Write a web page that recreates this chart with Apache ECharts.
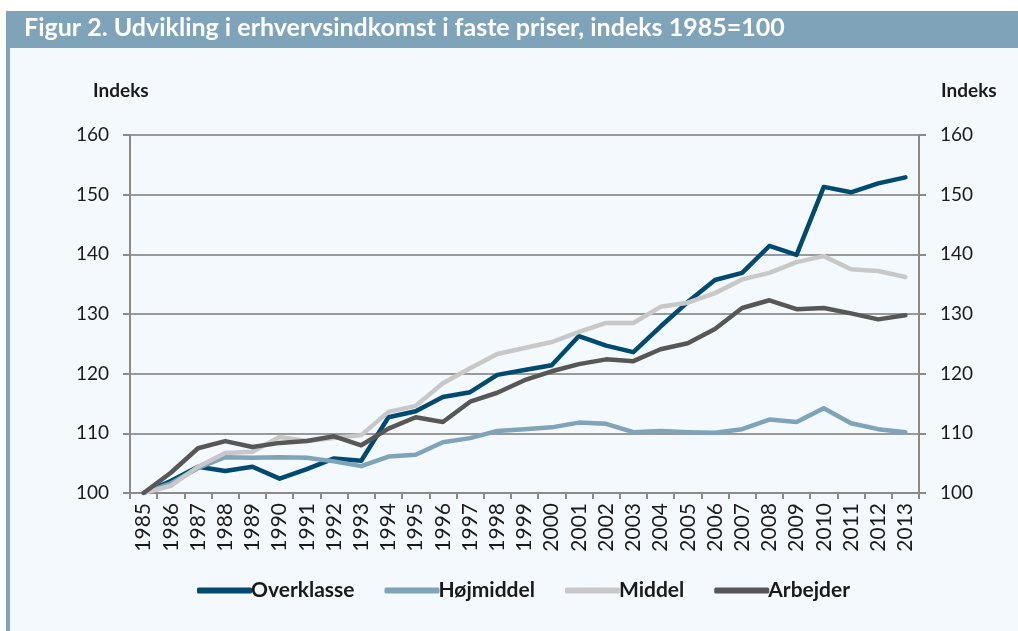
<!DOCTYPE html>
<html>
<head>
<meta charset="utf-8">
<script src="https://cdn.jsdelivr.net/npm/echarts@6/dist/echarts.min.js"></script>
<style>
  html, body { margin: 0; padding: 0; background: #ffffff; }
  #chart { width: 1018px; height: 631px; }
</style>
</head>
<body>
<div id="chart"></div>
<script>
const years = ["1985","1986","1987","1988","1989","1990","1991","1992","1993","1994",
  "1995","1996","1997","1998","1999","2000","2001","2002","2003","2004",
  "2005","2006","2007","2008","2009","2010","2011","2012","2013"];

const overklasse = [100, 102.0, 104.4, 103.7, 104.4, 102.4, 104.0, 105.8, 105.4, 112.7,
  113.7, 116.1, 116.9, 119.8, 120.6, 121.4, 126.3, 124.7, 123.6, 127.9,
  132.0, 135.7, 136.9, 141.4, 139.9, 151.3, 150.4, 151.9, 152.9];
const hoejmiddel = [100, 101.6, 104.2, 106.0, 105.9, 106.0, 105.9, 105.3, 104.5, 106.1,
  106.4, 108.5, 109.2, 110.4, 110.7, 111.0, 111.8, 111.6, 110.2, 110.4,
  110.2, 110.1, 110.7, 112.3, 111.9, 114.2, 111.7, 110.7, 110.2];
const middel = [100, 101.2, 104.4, 106.7, 106.9, 109.4, 108.7, 109.2, 109.7, 113.6,
  114.6, 118.4, 120.9, 123.3, 124.3, 125.3, 127.0, 128.5, 128.5, 131.2,
  131.9, 133.5, 135.8, 136.9, 138.7, 139.7, 137.5, 137.2, 136.2];
const arbejder = [100, 103.4, 107.5, 108.7, 107.7, 108.4, 108.7, 109.5, 108.0, 110.8,
  112.7, 111.9, 115.3, 116.8, 118.9, 120.4, 121.6, 122.4, 122.1, 124.1,
  125.1, 127.5, 131.0, 132.3, 130.8, 131.0, 130.1, 129.1, 129.8];

const seriesNames = ["Overklasse", "Højmiddel", "Middel", "Arbejder"];
const seriesColors = ["#004a70", "#7fa3b8", "#c8c8c8", "#575757"];
const seriesData = [overklasse, hoejmiddel, middel, arbejder];

const chart = echarts.init(document.getElementById("chart"));

const axisColor = "#8a8a8a";
const font = "Lato, 'Noto Sans', sans-serif";

chart.setOption({
  backgroundColor: "#ffffff",
  animation: false,
  graphic: [
    // panel
    { type: "rect", shape: { x: 6, y: 47, width: 1012, height: 584 }, style: { fill: "#f4f9fd" }, z: -10 },
    { type: "rect", shape: { x: 6, y: 47, width: 4, height: 584 }, style: { fill: "#7fa3b8" }, z: -9 },
    // title bar
    { type: "rect", shape: { x: 6, y: 11, width: 1012, height: 37 }, style: { fill: "#7fa3b8" }, z: -9 },
    {
      type: "text", left: 24, top: 15,
      style: { text: "Figur 2. Udvikling i erhvervsindkomst i faste priser, indeks 1985=100",
        fill: "#ffffff", font: "bold 25px " + font }
    },
    {
      type: "text", left: 93, top: 81,
      style: { text: "Indeks", fill: "#1a1a1a", font: "bold 19px " + font }
    },
    {
      type: "text", left: 941, top: 81,
      style: { text: "Indeks", fill: "#1a1a1a", font: "bold 19px " + font }
    }
  ],
  grid: { left: 130, right: 99, top: 135, bottom: 138 },
  legend: {
    data: seriesNames,
    left: 192,
    top: 575,
    itemWidth: 55,
    itemHeight: 6,
    itemGap: 30,
    icon: "roundRect",
    textStyle: { fontFamily: font, fontWeight: "bold", fontSize: 21, color: "#1a1a1a", padding: [0, 0, 0, -6] }
  },
  xAxis: {
    type: "category",
    data: years,
    boundaryGap: true,
    axisLine: { lineStyle: { color: axisColor, width: 2 } },
    axisTick: { show: true, length: 6, lineStyle: { color: axisColor, width: 2 } },
    axisLabel: { rotate: 90, interval: 0, margin: 10, fontSize: 21, color: "#1a1a1a", fontFamily: font }
  },
  yAxis: [
    {
      type: "value", min: 100, max: 160, interval: 10, position: "left",
      axisLine: { show: true, lineStyle: { color: axisColor, width: 2 } },
      axisTick: { show: true, length: 7, lineStyle: { color: axisColor, width: 2 } },
      axisLabel: { margin: 21, fontSize: 19, color: "#1a1a1a", fontFamily: font },
      splitLine: { lineStyle: { color: "#999999", width: 2 } }
    },
    {
      type: "value", min: 100, max: 160, interval: 10, position: "right",
      axisLine: { show: true, lineStyle: { color: axisColor, width: 2 } },
      axisTick: { show: true, length: 7, lineStyle: { color: axisColor, width: 2 } },
      axisLabel: { margin: 21, fontSize: 19, color: "#1a1a1a", fontFamily: font },
      splitLine: { show: false }
    }
  ],
  series: seriesNames.map((name, i) => ({
    name: name,
    type: "line",
    data: seriesData[i],
    yAxisIndex: 0,
    symbol: "none",
    color: seriesColors[i],
    lineStyle: { width: 4.5, color: seriesColors[i], cap: "round", join: "round" }
  }))
});
</script>
</body>
</html>
